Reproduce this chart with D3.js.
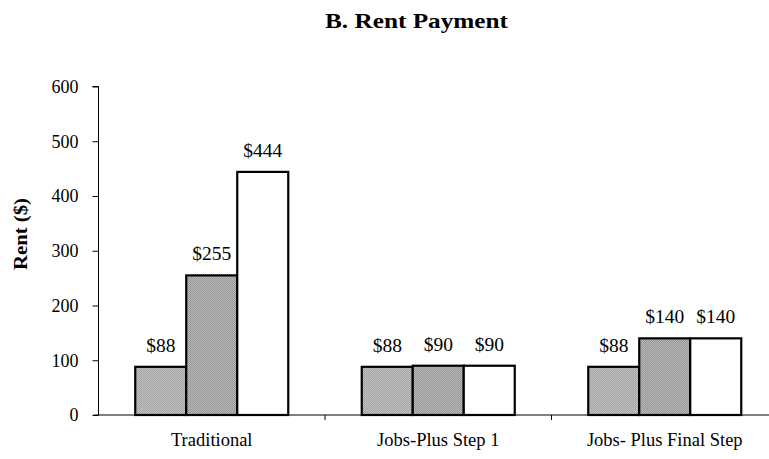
<!DOCTYPE html>
<html>
<head>
<meta charset="utf-8">
<script src="https://cdn.jsdelivr.net/npm/d3@7"></script>
<style>
  html, body { margin: 0; padding: 0; background: #fff; }
  svg { display: block; font-family: "Liberation Serif", "Times New Roman", serif; }
</style>
</head>
<body>
<svg id="chart" width="769" height="459"></svg>
<script>
const categories = ["Traditional", "Jobs-Plus Step 1", "Jobs- Plus Final Step"];
const seriesNames = ["s1", "s2", "s3"];
const values = [
  [88, 255, 444],
  [88, 90, 90],
  [88, 140, 140]
];
const valueLabels = [
  ["$88", "$255", "$444"],
  ["$88", "$90", "$90"],
  ["$88", "$140", "$140"]
];
const yTicks = [0, 100, 200, 300, 400, 500, 600];
const title = "B. Rent Payment";
const yTitle = "Rent ($)";

const svg = d3.select("#chart");
const mLeft = 98.5, mBottom = 415, mTop = 86.5, mRight = 778;

// patterns
const defs = svg.append("defs");
function dither(id, c1, c2) {
  const p = defs.append("pattern").attr("id", id).attr("width", 2).attr("height", 2)
    .attr("patternUnits", "userSpaceOnUse");
  p.append("rect").attr("width", 2).attr("height", 2).attr("fill", c1);
  p.append("rect").attr("width", 1).attr("height", 1).attr("fill", c2);
  p.append("rect").attr("x", 1).attr("y", 1).attr("width", 1).attr("height", 1).attr("fill", c2);
}
dither("p1", "#939393", "#d2d2d2");
dither("p2", "#858585", "#cacaca");
const fills = ["url(#p1)", "url(#p2)", "#ffffff"];

const x0 = d3.scaleBand().domain(categories).range([mLeft, mRight]).paddingInner(0).paddingOuter(0);
const groupW = 153;
const x1 = d3.scaleBand().domain(seriesNames).range([0, groupW]).padding(0);
const y = d3.scaleLinear().domain([0, 600]).range([mBottom, mTop]);

// title
svg.append("text").attr("x", 416.5).attr("y", 28).attr("text-anchor", "middle")
  .attr("font-weight", "bold").attr("font-size", 22)
  .attr("textLength", 183).attr("lengthAdjust", "spacingAndGlyphs").text(title);

// y axis title
svg.append("text").attr("transform", `translate(27,234) rotate(-90)`)
  .attr("text-anchor", "middle").attr("font-weight", "bold").attr("font-size", 19)
  .attr("textLength", 72).attr("lengthAdjust", "spacingAndGlyphs").text(yTitle);

// y axis
const yAxis = svg.append("g").attr("transform", `translate(${mLeft},0)`)
  .call(d3.axisLeft(y).tickValues(yTicks).tickSize(6).tickPadding(14));
yAxis.selectAll("text").attr("font-size", 18).attr("font-family", "Liberation Serif").attr("fill", "#000");
yAxis.selectAll("line").attr("stroke", "#000");
yAxis.select(".domain").attr("stroke", "#000").attr("d", `M-6,${mTop}H0V${mBottom}`);

// x axis
const xg = svg.append("g").attr("transform", `translate(0,${mBottom})`);
xg.append("line").attr("x1", mLeft - 5).attr("x2", 769).attr("y1", 0).attr("y2", 0).attr("stroke", "#000");
categories.forEach((c, i) => {
  const xb = x0(c);
  if (i > 0) xg.append("line").attr("x1", xb).attr("x2", xb).attr("y1", 0).attr("y2", 5).attr("stroke", "#000");
  xg.append("text").attr("x", xb + x0.bandwidth() / 2).attr("y", 31).attr("text-anchor", "middle")
    .attr("font-size", 18.5).text(c);
});

// bars
categories.forEach((c, i) => {
  const gx = x0(c) + (x0.bandwidth() - groupW) / 2;
  const g = svg.append("g").attr("transform", `translate(${gx},0)`);
  seriesNames.forEach((s, j) => {
    const v = values[i][j];
    g.append("rect").attr("x", x1(s)).attr("y", y(v)).attr("width", x1.bandwidth())
      .attr("height", mBottom - y(v)).attr("fill", fills[j]).attr("stroke", "#000").attr("stroke-width", 2.2);
    g.append("text").attr("x", x1(s) + x1.bandwidth() / 2).attr("y", y(v) - 15)
      .attr("text-anchor", "middle").attr("font-size", 19.5).text(valueLabels[i][j]);
  });
});
</script>
</body>
</html>
